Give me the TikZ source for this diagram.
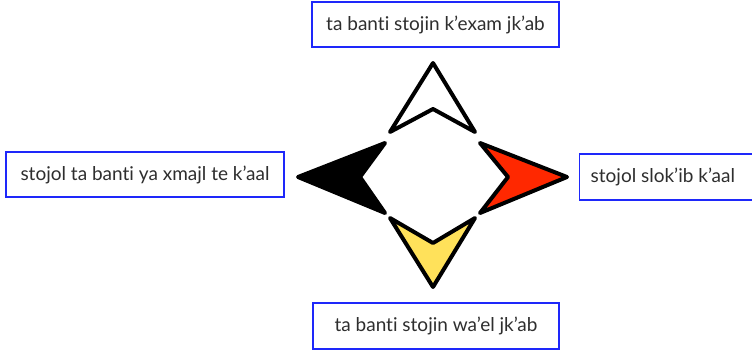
\documentclass[tikz,border=0pt]{standalone}
\usepackage{fontspec}
\setmainfont[Ligatures=NoCommon]{Lato}
\definecolor{lblue}{RGB}{30,40,250}
\definecolor{ared}{RGB}{255,40,0}
\definecolor{ayel}{RGB}{255,225,90}
\begin{document}
\begin{tikzpicture}[x=1pt,y=-1pt,
  lbl/.style={draw=lblue,line width=1.3pt,fill=white,inner sep=0pt,font=\fontsize{19}{22}\selectfont,text=black!82},
  arr/.style={draw=black,line width=4pt,line join=round}]
\useasboundingbox (0,0) rectangle (752,351);
\node[lbl,minimum width=247,minimum height=45] (top) at (435.5,24.5) {ta banti stojin k’exam jk’ab};
\node[lbl,minimum width=278,minimum height=45] (left) at (145,174.5) {stojol ta banti ya xmajl te k’aal};
\node[lbl,minimum height=46,anchor=west,inner xsep=11pt] (right) at (579,177) {\makebox[160pt][l]{stojol slok’ib k’aal}};
\node[lbl,minimum width=246,minimum height=46] (bot) at (436,326) {ta banti stojin wa’el jk’ab};
% arrows
\draw[arr,fill=white] (433,63) -- (475,132) -- (433,109) -- (390,132) -- cycle;
\draw[arr,fill=black] (298,177) -- (385,143) -- (360,177) -- (385,213) -- cycle;
\draw[arr,fill=ared] (567,177) -- (480,143) -- (508,177) -- (480,213) -- cycle;
\draw[arr,fill=ayel] (433,287) -- (475,218) -- (433,243) -- (390,218) -- cycle;
\end{tikzpicture}
\end{document}
